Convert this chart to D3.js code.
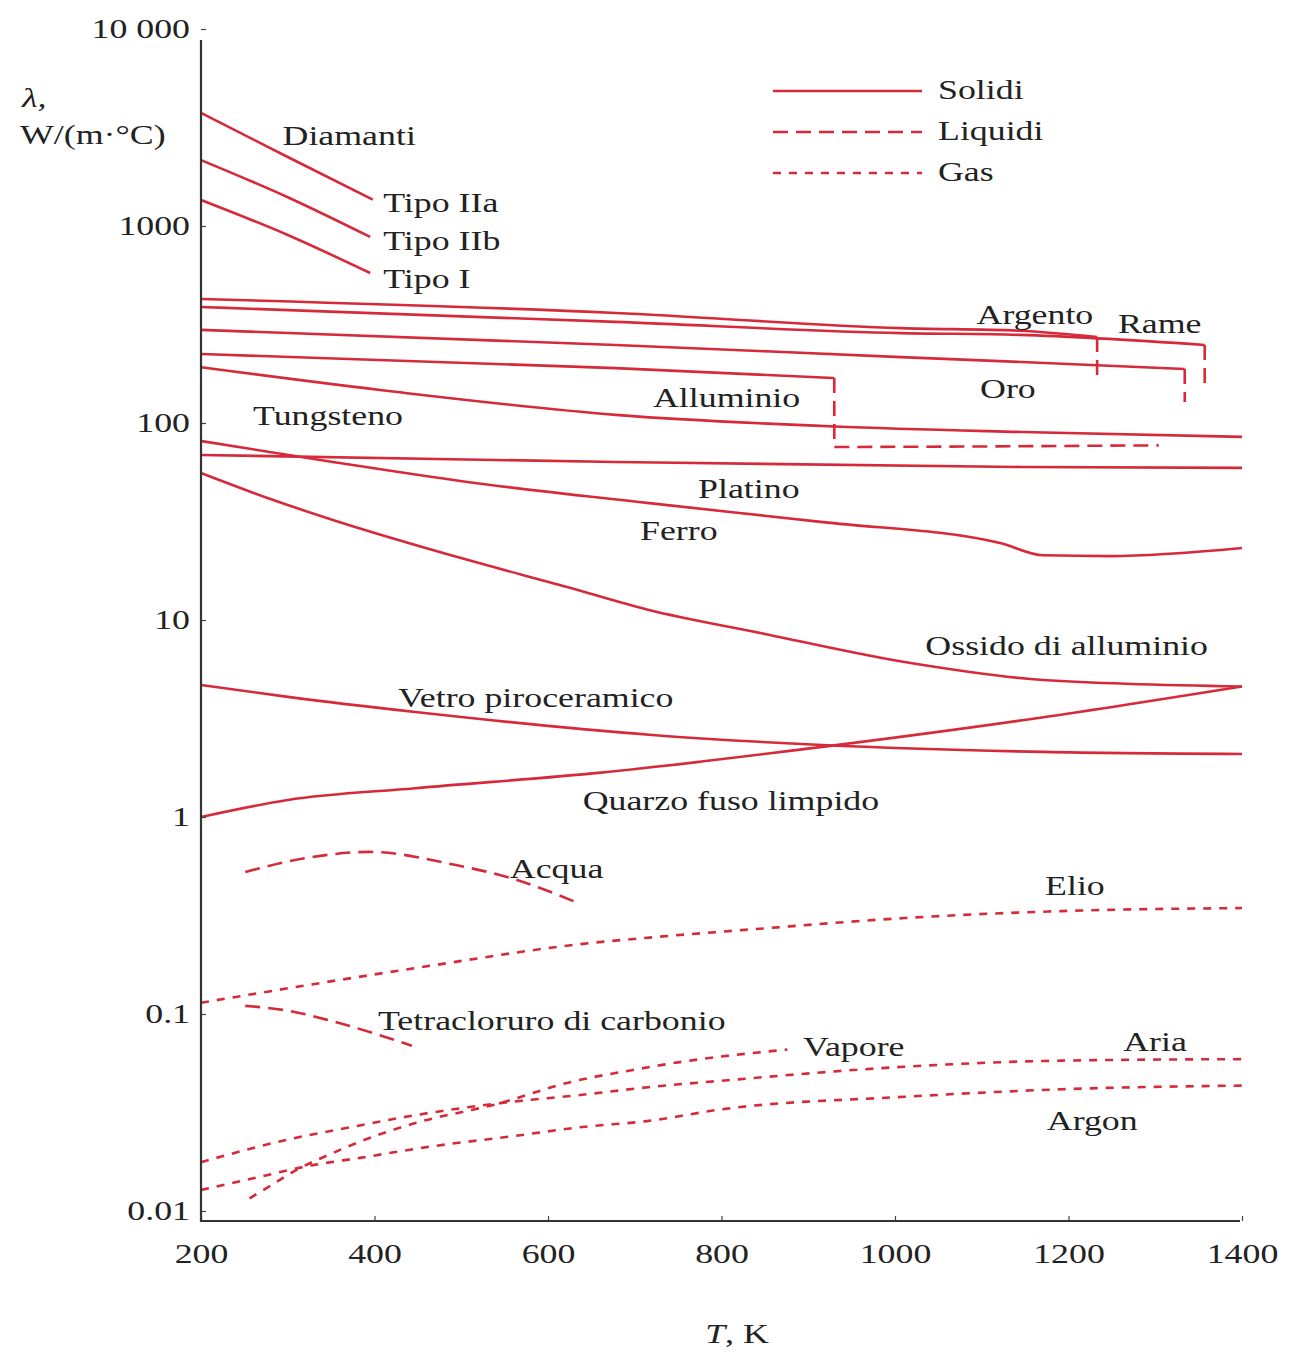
<!DOCTYPE html>
<html><head><meta charset="utf-8">
<script src="https://cdn.jsdelivr.net/npm/d3@7"></script>
<style>body{margin:0;background:#fff}</style>
</head><body>
<svg id="c" width="1293" height="1353"></svg>
<script>
// ---------- tick labels ----------
const yTickValues = [0.01, 0.1, 1, 10, 100, 1000, 10000];
const yTickLabels = ["0.01", "0.1", "1", "10", "100", "1000", "10 000"];
const xTickValues = [200, 400, 600, 800, 1000, 1200, 1400];
const xTickLabels = ["200", "400", "600", "800", "1000", "1200", "1400"];

// ---------- solids [T (K), lambda W/(m·°C)] ----------
const diamanteIIa = [[200,3750],[300,2240],[398,1360]];
const diamanteIIb = [[200,2160],[300,1400],[395,880]];
const diamanteI   = [[200,1355],[300,900],[395,577]];
const argento     = [[200,426],[678,362],[1007,303],[1144,294],[1233,273]];
const rame        = [[200,388],[678,326],[1007,286],[1144,280],[1357,249]];
const oro         = [[200,297],[678,249],[1007,216],[1146,204],[1334,188]];
const alluminio   = [[200,224],[678,190],[930,169]];
const tungsteno   = [[200,192],[424,144],[678,110],[930,96],[1146,90],[1400,85]];
const platino     = [[200,68.8],[678,63.4],[1146,59.8],[1400,59.2]];
const ferro       = [[200,81],[352,63.4],[507,50.2],[714,39.3],[917,31.4],[1121,24.6],[1171,21.3],[1248,21.1],[1400,23.2]];
const ossidoAl    = [[200,55.7],[280,41.1],[352,32.2],[507,20.2],[622,14.7],[714,11.3],[850,8.5],[1018,6.05],[1171,4.96],[1400,4.6]];
const vetroPiro   = [[200,4.68],[300,4.07],[447,3.41],[720,2.61],[916,2.32],[1171,2.14],[1400,2.09]];
const quarzo      = [[200,1.0],[300,1.22],[447,1.40],[661,1.68],[916,2.27],[1171,3.21],[1400,4.6]];

// ---------- liquids ----------
const acqua        = [[251,0.526],[322,0.62],[394,0.665],[494,0.57],[557,0.49],[632,0.37]];
const tetracloruro = [[251,0.110],[300,0.104],[351,0.092],[443,0.069]];
const alLiquido    = [[930,169],[930,75.5],[1100,76],[1304,77]];
const argentoFusione = [[1233,273],[1233,165]];
const rameFusione    = [[1357,249],[1357,147]];
const oroFusione     = [[1334,188],[1334,128]];

// ---------- gases ----------
const elio    = [[200,0.114],[300,0.135],[447,0.171],[648,0.229],[720,0.245],[840,0.27],[1011,0.307],[1192,0.333],[1400,0.345]];
const aria    = [[200,0.0177],[303,0.0232],[380,0.027],[429,0.0297],[545,0.0353],[637,0.0388],[718,0.0426],[804,0.046],[1011,0.054],[1192,0.058],[1400,0.059]];
const argon   = [[200,0.0128],[253,0.0144],[329,0.0171],[383,0.0186],[460,0.0211],[560,0.024],[640,0.0267],[714,0.0286],[804,0.033],[1011,0.038],[1192,0.0415],[1400,0.0433]];
const vapore  = [[256,0.0116],[282,0.0136],[306,0.0158],[352,0.0197],[398,0.0238],[444,0.0277],[545,0.0353],[622,0.0447],[698,0.052],[752,0.057],[876,0.066]];

// ---------- curve labels [text, T, lambda] ----------
const curveLabels = [
  ["Diamanti",294,2897],["Tipo IIa",410,1324],["Tipo IIb",410,849],["Tipo I",410,545],
  ["Argento",1094,357],["Rame",1257,322],["Oro",1098,150.6],["Alluminio",721,135.5],
  ["Tungsteno",260,109.8],["Platino",773,46.8],["Ferro",706,28.6],
  ["Ossido di alluminio",1035,7.47],["Vetro piroceramico",427,4.07],
  ["Quarzo fuso limpido",640,1.22],["Acqua",556,0.551],["Elio",1173,0.452],
  ["Tetracloruro di carbonio",404,0.0932],["Vapore",894,0.0688],
  ["Aria",1263,0.0729],["Argon",1175,0.029]
];
const legendItems = [["Solidi","solid"],["Liquidi","liquid"],["Gas","gas"]];

// ---------- drawing ----------
const RED = "#d62a3a", INK = "#222", SX = 1.28, FS = 28;
const FONT = "'Liberation Serif','Times New Roman',serif";
const svg = d3.select("#c");
svg.append("rect").attr("width",1293).attr("height",1353).attr("fill","#fff");

const x = d3.scaleLinear().domain([200,1400]).range([201,1242]);
const y = d3.scaleLog().domain([0.01,10000]).range([1211,29]);

const dashes = {solid:null, liquid:"15,8", gas:"8,8"};
const line = d3.line().x(d=>x(d[0])).y(d=>y(d[1])).curve(d3.curveMonotoneX);
const lineLin = d3.line().x(d=>x(d[0])).y(d=>y(d[1]));

function draw(data, type, gen) {
  svg.append("path").datum(data)
    .attr("d", (gen||line))
    .attr("fill","none").attr("stroke",RED).attr("stroke-width",2.6)
    .attr("stroke-dasharray", dashes[type]);
}
[diamanteIIa,diamanteIIb,diamanteI,argento,rame,oro,alluminio,tungsteno,platino,ferro,ossidoAl,vetroPiro,quarzo]
  .forEach(s=>draw(s,"solid"));
[acqua,tetracloruro].forEach(s=>draw(s,"liquid"));
[alLiquido,argentoFusione,rameFusione,oroFusione].forEach(s=>draw(s,"liquid",lineLin));
[elio,aria,argon,vapore].forEach(s=>draw(s,"gas"));

// axes
const gx = svg.append("g").attr("transform","translate(0,1221)")
  .call(d3.axisBottom(x).tickValues(xTickValues).tickFormat((d,i)=>xTickLabels[i]).tickSizeInner(-5).tickSizeOuter(0).tickPadding(22));
const gy = svg.append("g").attr("transform","translate(201,0)")
  .call(d3.axisLeft(y).tickValues(yTickValues).tickFormat((d,i)=>yTickLabels[i]).tickSizeInner(-5).tickSizeOuter(0).tickPadding(11));
[gx,gy].forEach(g=>{
  g.select(".domain").remove();
  g.selectAll(".tick line").attr("stroke","#444").attr("stroke-width",1.2);
  g.selectAll("text").attr("font-family",FONT).attr("font-size",FS).attr("fill",INK);
});
gy.selectAll("text").attr("x",-11/SX).attr("transform",`scale(${SX},1)`);
gx.selectAll("text").attr("transform",`scale(${SX},1)`);
svg.append("line").attr("x1",201).attr("x2",201).attr("y1",40).attr("y2",1222).attr("stroke","#333").attr("stroke-width",2.2);
svg.append("line").attr("x1",200).attr("x2",1240).attr("y1",1221).attr("y2",1221).attr("stroke","#333").attr("stroke-width",2.2);

function txt(str, px, py, anchor) {
  return svg.append("text").attr("transform",`translate(${px},${py}) scale(${SX},1)`)
    .attr("dy","0.35em").attr("text-anchor",anchor||"start")
    .attr("font-family",FONT).attr("font-size",FS).attr("fill",INK).text(str);
}
curveLabels.forEach(l=>txt(l[0], x(l[1]), y(l[2])));

// axis titles
txt("λ,", 22, 97).attr("font-style","italic");
txt("W/(m·°C)", 20, 134);
const tk = txt("", 737, 1333, "middle");
tk.append("tspan").attr("font-style","italic").text("T");
tk.append("tspan").text(", K");

// legend
legendItems.forEach((it,i)=>{
  const ly = 91 + i*41;
  svg.append("line").attr("x1",773).attr("x2",922).attr("y1",ly).attr("y2",ly)
    .attr("stroke",RED).attr("stroke-width",2.6).attr("stroke-dasharray",dashes[it[1]]);
  txt(it[0], 938, ly-2);
});
</script>
</body></html>
